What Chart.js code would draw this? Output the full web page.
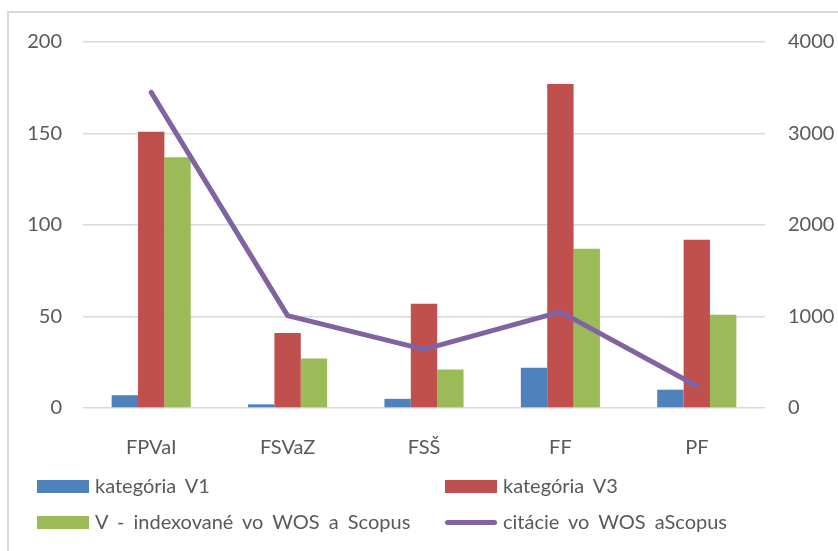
<!DOCTYPE html>
<html>
<head>
<meta charset="utf-8">
<script src="https://cdn.jsdelivr.net/npm/chart.js@4.4.1/dist/chart.umd.min.js"></script>
<style>
  html, body { margin: 0; padding: 0; background: #fff; }
  #wrap { position: relative; width: 838px; height: 551px; overflow: hidden; }
  #frame { position: absolute; left: 7px; top: 11px; width: 900px; height: 600px; border: 2px solid #d9d9d9; box-sizing: border-box; }
  #c { position: absolute; left: 0; top: 0; }
  .leg { position: absolute; font-family: Lato, sans-serif; font-size: 20px; word-spacing: 4px; color: #595959; white-space: nowrap; }
  .sw { position: absolute; }
</style>
</head>
<body>
<div id="wrap">
  <div id="frame"></div>
  <canvas id="c" width="838" height="551"></canvas>
  <div id="legend"></div>
</div>
<script>
// data
const categories = ['FPVaI', 'FSVaZ', 'FSŠ', 'FF', 'PF'];
const v1 = [7, 2, 5, 22, 10];
const v3 = [151, 41, 57, 177, 92];
const indexed = [137, 27, 21, 87, 51];
const citations = [3450, 1010, 640, 1050, 240];
const leftTicks = [0, 50, 100, 150, 200];
const rightTicks = [0, 1000, 2000, 3000, 4000];

const grey = '#595959';
const font = { family: 'Lato', size: 20 };

const datasets = [
    { type: 'bar', label: 'kategória V1', data: v1, backgroundColor: '#4f81bd', yAxisID: 'y', order: 1 },
    { type: 'bar', label: 'kategória V3', data: v3, backgroundColor: '#c0504d', yAxisID: 'y', order: 1 },
    { type: 'bar', label: 'V - indexované vo WOS a Scopus', data: indexed, backgroundColor: '#9bbb59', yAxisID: 'y', order: 1 },
    { type: 'line', label: 'citácie vo WOS aScopus', data: citations, borderColor: '#8064a2', backgroundColor: '#8064a2',
      borderWidth: 5, pointRadius: 0, borderCapStyle: 'round', borderJoinStyle: 'round', tension: 0, yAxisID: 'y1', order: 0 }
];

const chart = new Chart(document.getElementById('c'), {
    data: { labels: categories, datasets: datasets },
    options: {
        responsive: false,
        animation: false,
        devicePixelRatio: 1,
        layout: { padding: { left: 0, right: 0, top: 42, bottom: 0 } },
        datasets: { bar: { categoryPercentage: 0.58, barPercentage: 1 } },
        plugins: { legend: { display: false }, tooltip: { enabled: false } },
        scales: {
            x: {
                grid: { display: false },
                border: { display: false },
                ticks: { color: grey, font: font, padding: 20 },
                afterFit: function (s) { s.height = 143; }
            },
            y: {
                position: 'left',
                min: 0, max: 200,
                afterBuildTicks: function (s) { s.ticks = leftTicks.map(v => ({ value: v })); },
                grid: { color: '#d9d9d9', lineWidth: 1.5, drawTicks: false },
                border: { display: false },
                ticks: { color: grey, font: font, padding: 21, callback: v => String(v) },
                afterFit: function (s) { s.width = 83; }
            },
            y1: {
                position: 'right',
                min: 0, max: 4000,
                afterBuildTicks: function (s) { s.ticks = rightTicks.map(v => ({ value: v })); },
                grid: { display: false, drawTicks: false },
                border: { display: false },
                ticks: { color: grey, font: font, padding: 23, callback: v => String(v) },
                afterFit: function (s) { s.width = 73; }
            }
        }
    }
});

// legend, two columns like the original
const legend = document.getElementById('legend');
const cols = [37, 445];
const rows = [486, 522];
datasets.forEach(function (ds, i) {
    const x = cols[i % 2];
    const y = rows[Math.floor(i / 2)];
    const sw = document.createElement('div');
    sw.className = 'sw';
    sw.style.left = x + 'px';
    sw.style.width = '52px';
    if (ds.type === 'line') {
        sw.style.top = (y - 2.5) + 'px';
        sw.style.height = '5px';
        sw.style.borderRadius = '3px';
    } else {
        sw.style.top = (y - 6.5) + 'px';
        sw.style.height = '13px';
    }
    sw.style.background = ds.backgroundColor;
    legend.appendChild(sw);
    const t = document.createElement('div');
    t.className = 'leg';
    t.textContent = ds.label;
    t.style.left = (x + 58) + 'px';
    t.style.top = (y - 13) + 'px';
    legend.appendChild(t);
});
</script>
</body>
</html>
